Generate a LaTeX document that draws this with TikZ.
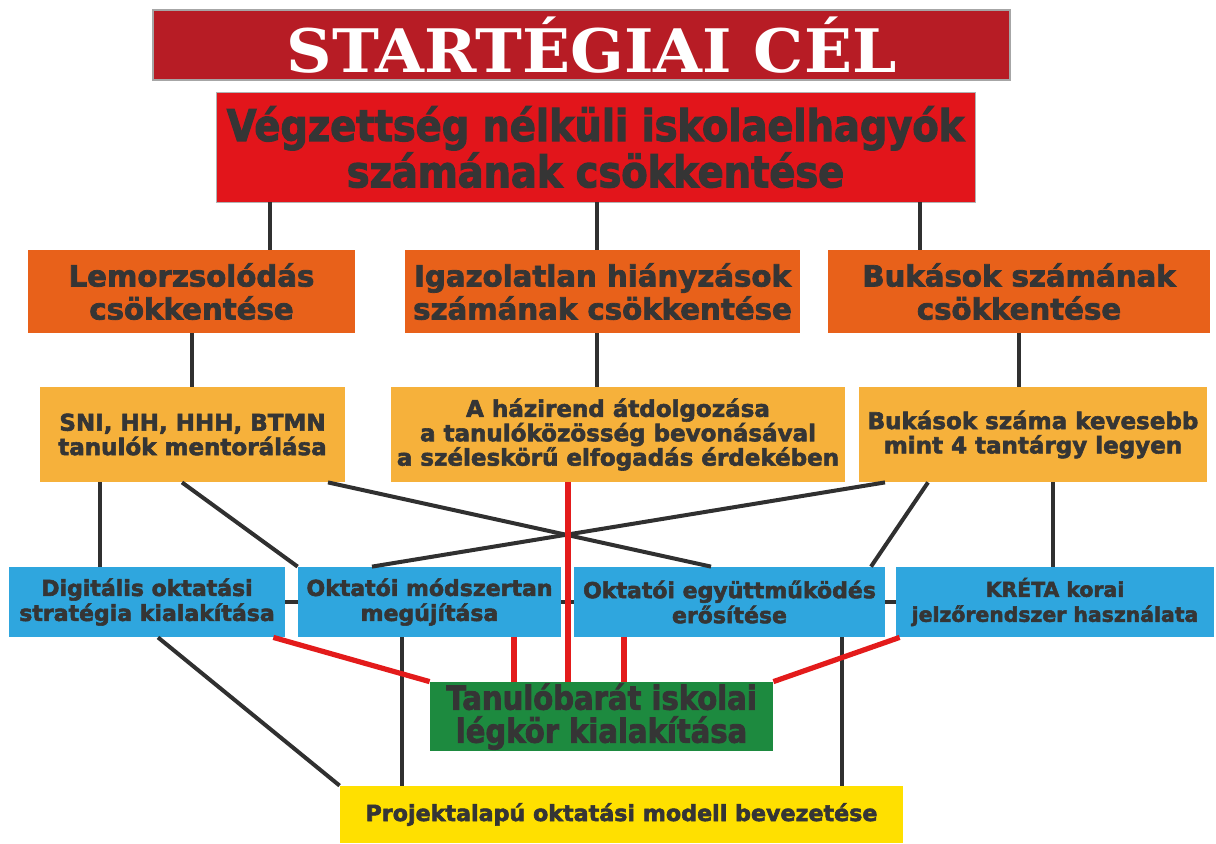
\documentclass[tikz,border=0pt]{standalone}
\usepackage{fontspec}
\setmainfont{DejaVu Sans}
\newfontfamily\heavyfam[BoldFeatures={FakeBold=2.5}]{DejaVu Sans}
\newfontfamily\heavycond[BoldFeatures={FakeBold=2.5,FakeStretch=0.88}]{DejaVu Sans}
\def\heavy{\heavyfam\bfseries}
\newfontfamily\slab[BoldFeatures={FakeStretch=1.05}]{DejaVu Serif}
\usetikzlibrary{calc}
\definecolor{titlered}{HTML}{B71C25}
\definecolor{goalred}{HTML}{E2151B}
\definecolor{deeporange}{HTML}{E8611A}
\definecolor{lightorange}{HTML}{F6B13B}
\definecolor{skyblue}{HTML}{2FA6DE}
\definecolor{leafgreen}{HTML}{1D8A3F}
\definecolor{sunyellow}{HTML}{FFE000}
\definecolor{inkgray}{HTML}{353535}
\definecolor{linkred}{HTML}{E31B1B}
\def\blk{\draw[link]}
\def\rdl{\draw[redlink]}
\begin{document}
\begin{tikzpicture}[x=0.5pt,y=-0.5pt,
    box/.style={inner sep=0pt,align=center,text=inkgray,font=\heavy},
    link/.style={line width=2pt,draw=inkgray!90!black},
    redlink/.style={line width=2.6pt,draw=linkred}]
  \useasboundingbox (0,0) rectangle (1216,843);
  % title and main goal
  \node[box,fill=titlered,draw=gray!70,line width=0.8pt,minimum width=428.5pt,minimum height=35pt,
        text=white,font=\slab\bfseries\fontsize{30}{32}\selectfont] (title) at (581.5,45) {\hspace{10pt}STARTÉGIAI CÉL};
  \node[box,fill=goalred,draw=gray!60,minimum width=379.5pt,minimum height=55pt,
        font=\heavycond\bfseries\fontsize{21.8}{21}\selectfont] (goal) at (595.5,147)
        {Végzettség nélküli iskolaelhagyók\\számának csökkentése};
  % second level
  \tikzset{lvltwo/.style={box,fill=deeporange,minimum height=41.5pt,font=\heavy\fontsize{14.6}{16.5}\selectfont}}
  \node[lvltwo,minimum width=163.5pt] (lemo) at (191.5,291.5) {Lemorzsolódás\\csökkentése};
  \node[lvltwo,minimum width=197.5pt] (igaz) at (602.5,291.5) {Igazolatlan hiányzások\\számának csökkentése};
  \node[lvltwo,minimum width=191pt] (buk) at (1019,291.5) {Bukások számának\\csökkentése};
  % third level
  \tikzset{lvlthree/.style={box,fill=lightorange,minimum height=47.5pt,font=\heavy\fontsize{11.5}{12.2}\selectfont}}
  \node[lvlthree,minimum width=152.5pt] (sni) at (192.5,434.5) {SNI, HH, HHH, BTMN\\tanulók mentorálása};
  \node[lvlthree,minimum width=227pt] (hazi) at (618,434.5)
        {A házirend átdolgozása\\a tanulóközösség bevonásával\\a széleskörű elfogadás érdekében};
  \node[lvlthree,minimum width=174pt] (bsz) at (1033,434.5) {Bukások száma kevesebb\\mint 4 tantárgy legyen};
  % blue row
  \tikzset{bluebox/.style={box,fill=skyblue,minimum height=35pt,font=\heavy\fontsize{11}{12.5}\selectfont}}
  \node[bluebox,minimum width=138pt] (dig) at (147,602) {Digitális oktatási\\stratégia kialakítása};
  \node[bluebox,minimum width=131.5pt] (modsz) at (429.5,602) {Oktatói módszertan\\megújítása};
  \node[bluebox,minimum width=155.5pt] (egy) at (729.5,602) {Oktatói együttműködés\\erősítése};
  \node[bluebox,minimum width=159pt,font=\heavy\fontsize{10.2}{12.5}\selectfont] (kreta) at (1055,602)
        {KRÉTA korai\\jelzőrendszer használata};
  % bottom
  \node[box,fill=leafgreen,minimum width=171.5pt,minimum height=34.5pt,
        font=\heavycond\bfseries\fontsize{16.5}{16.5}\selectfont] (legkor) at (601.5,716.5)
        {Tanulóbarát iskolai\\légkör kialakítása};
  \node[box,fill=sunyellow,minimum width=281.5pt,minimum height=28.5pt,
        font=\heavy\fontsize{11.1}{12}\selectfont] (proj) at (621.5,814.5) {Projektalapú oktatási modell bevezetése};

  % goal to second level
  \blk ([xshift=39.25pt]lemo.north) -- ([xshift=39.25pt]lemo.north |- goal.south);
  \blk ([xshift=-2.75pt]igaz.north) -- ([xshift=-2.75pt]igaz.north |- goal.south);
  \blk ([xshift=-49.5pt]buk.north) -- ([xshift=-49.5pt]buk.north |- goal.south);
  % second to third level
  \blk (lemo.south) -- (lemo.south |- sni.north);
  \blk ([xshift=-2.75pt]igaz.south) -- ([xshift=-2.75pt]igaz.south |- hazi.north);
  \blk (buk.south) -- (buk.south |- bsz.north);
  % third level to blue row
  \blk ([xshift=-46.25pt]sni.south) -- ([xshift=-46.25pt]sni.south |- dig.north);
  \blk ([xshift=-5.25pt]sni.south) -- (modsz.north west);
  \blk ([xshift=67.75pt]sni.south) -- ([xshift=-9.25pt]egy.north);
  \blk ([xshift=-74pt]bsz.south) -- ([xshift=-28.75pt]modsz.north);
  \blk ([xshift=-52.5pt]bsz.south) -- ([xshift=70.75pt]egy.north);
  \blk ([xshift=10pt]bsz.south) -- ([xshift=10pt]bsz.south |- kreta.north);
  % blue row links
  \blk (dig.east) -- (modsz.west);
  \blk (modsz.east) -- (egy.west);
  \blk (egy.east) -- (kreta.west);
  % to project box
  \blk ([xshift=5.5pt]dig.south) -- (proj.north west);
  \blk ([xshift=-13.75pt]modsz.south) -- ([xshift=-13.75pt]modsz.south |- proj.north);
  \blk ([xshift=56.25pt]egy.south) -- ([xshift=56.25pt]egy.south |- proj.north);
  % to green box
  \rdl ([xshift=-25pt]hazi.south) -- ([xshift=-25pt]hazi.south |- legkor.north);
  \rdl ([xshift=-6pt]dig.south east) -- (legkor.north west);
  \rdl ([xshift=42.25pt]modsz.south) -- ([xshift=42.25pt]modsz.south |- legkor.north);
  \rdl ([xshift=-52.75pt]egy.south) -- ([xshift=-52.75pt]egy.south |- legkor.north);
  \rdl ([xshift=2pt]kreta.south west) -- (legkor.north east);
\end{tikzpicture}
\end{document}
